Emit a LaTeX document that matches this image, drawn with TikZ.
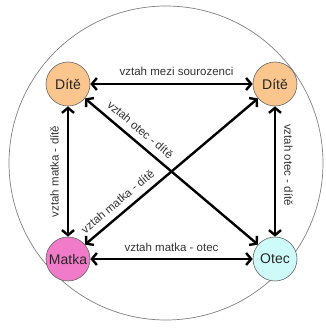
\documentclass[tikz,border=0pt]{standalone}
\usepackage{fontspec}
\setmainfont{Liberation Sans}
\usetikzlibrary{arrows.meta}
\definecolor{orangefill}{HTML}{FAC68E}
\definecolor{pinkfill}{HTML}{F07CC9}
\definecolor{cyanfill}{HTML}{CFFAFA}
\definecolor{txt}{HTML}{333333}
\begin{document}
\begin{tikzpicture}[x=1pt,y=1pt,
  person/.style={circle,draw=gray!80!black,line width=0.6pt,minimum size=44pt,inner sep=0pt,font=\fontsize{14}{16}\selectfont,text=black!85},
  rel/.style={line width=2.4pt,{Straight Barb[length=5pt,width=12pt]}-{Straight Barb[length=5pt,width=12pt]}},
  lab/.style={font=\fontsize{11.5}{13}\selectfont,text=txt,inner sep=2pt}]
\useasboundingbox (0,0) rectangle (325,330);
\draw[gray,line width=0.7pt] (166,167) circle (157);
\node[person,fill=orangefill] (DL) at (68,246) {Dítě};
\node[person,fill=orangefill] (DR) at (275,246) {Dítě};
\node[person,fill=pinkfill] (M) at (68,71) {Matka};
\node[person,fill=cyanfill] (O) at (275,71) {Otec};
\draw[rel] (DL) -- node[lab,above=5pt,xshift=5pt] {vztah mezi sourozenci} (DR);
\draw[rel] (M) -- node[lab,above=4pt] {vztah matka - otec} (O);
\draw[rel] (M) -- node[lab,sloped,above=6pt] {vztah matka - dítě} (DL);
\draw[rel] (DR) -- node[lab,pos=0.45,sloped,above=6pt] {vztah otec - dítě} (O);
\draw[rel] (DL) -- node[lab,pos=0.276,sloped,above=4.5pt] {vztah otec - dítě} (O);
\draw[rel] (M) -- node[lab,pos=0.233,sloped,above=4.5pt] {vztah matka - dítě} (DR);
\end{tikzpicture}
\end{document}
